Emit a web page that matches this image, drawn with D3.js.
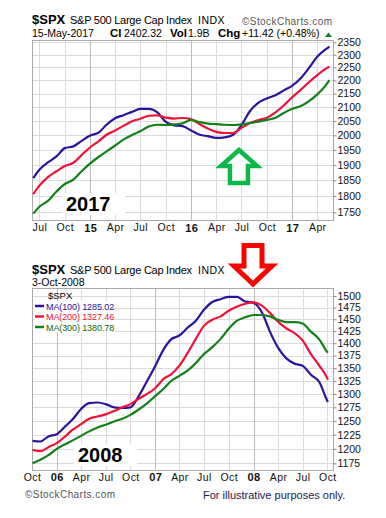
<!DOCTYPE html>
<html lang="en">
<head>
<meta charset="utf-8">
<title>$SPX moving averages 2017 vs 2008</title>
<script src="https://cdn.jsdelivr.net/npm/d3@7"></script>
<style>
  body { margin: 0; background: #fff; }
  text { font-family: "Liberation Sans", Arial, sans-serif; }
</style>
</head>
<body>
<script>
// ---- 2017 panel data (monthly readings) ----
var topDates = ["2014-06-09","2014-07-01","2014-08-01","2014-09-01","2014-10-01","2014-11-01","2014-12-01",
  "2015-01-01","2015-02-01","2015-03-01","2015-04-01","2015-05-01","2015-06-01","2015-07-01","2015-08-01",
  "2015-09-01","2015-10-01","2015-11-01","2015-12-01",
  "2016-01-01","2016-02-01","2016-03-01","2016-04-01","2016-05-01","2016-06-01","2016-07-01","2016-08-01",
  "2016-09-01","2016-10-01","2016-11-01","2016-12-01",
  "2017-01-01","2017-02-01","2017-03-01","2017-04-01","2017-05-01","2017-05-15"];
var topMA100 = [1857,1884,1908,1928,1956,1962,1981,1999,2010,2037,2060,2071,2083,2094,2094,2081,2047,2035,2032,
  2017,2002,1997,1991,1993,2002,2036,2086,2117,2132,2144,2162,2180,2209,2246,2292,2321,2333];
var topMA200 = [1806,1833,1860,1879,1896,1907,1933,1959,1980,2002,2017,2033,2049,2058,2069,2070,2062,2059,2061,
  2056,2039,2024,2012,2008,2008,2026,2043,2054,2062,2081,2106,2137,2165,2192,2220,2244,2253];
var topMA300 = [1746,1767,1785,1814,1838,1852,1879,1905,1927,1945,1965,1985,2001,2014,2031,2037,2036,2038,2042,
  2054,2046,2041,2039,2037,2036,2038,2043,2048,2054,2062,2079,2094,2104,2121,2147,2180,2201];
var topYTicks = [1750,1800,1850,1900,1950,2000,2050,2100,2150,2200,2250,2300,2350];
var topXTicks = ["2014-07-01","2014-10-01","2015-01-01","2015-04-01","2015-07-01","2015-10-01",
  "2016-01-01","2016-04-01","2016-07-01","2016-10-01","2017-01-01","2017-04-01"];

// ---- 2008 panel data ----
var botDates = ["2005-10-03","2005-11-01","2005-12-01",
  "2006-01-01","2006-02-01","2006-03-01","2006-04-01","2006-05-01","2006-06-01","2006-07-01","2006-08-01",
  "2006-09-01","2006-10-01","2006-11-01","2006-12-01",
  "2007-01-01","2007-02-01","2007-03-01","2007-04-01","2007-05-01","2007-06-01","2007-07-01","2007-08-01",
  "2007-09-01","2007-10-01","2007-11-01","2007-12-01",
  "2008-01-01","2008-02-01","2008-03-01","2008-04-01","2008-05-01","2008-06-01","2008-07-01","2008-08-01",
  "2008-09-01","2008-10-01","2008-10-03"];
var botMA100 = [1214,1213,1222,1226,1240,1253,1272,1283,1284,1281,1275,1274,1275,1296,1324,
  1354,1387,1408,1416,1432,1447,1470,1487,1493,1498,1498,1488,
  1485,1465,1425,1391,1370,1359,1355,1337,1323,1287,1285.02];
var botMA200 = [1198,1196,1203,1210,1222,1234,1244,1254,1258,1262,1268,1275,1281,1291,1300,
  1311,1329,1338,1355,1380,1409,1436,1449,1456,1468,1477,1483,
  1486,1479,1464,1445,1431,1421,1406,1378,1355,1330,1327.46];
var botMA300 = [1175,1181,1189,1200,1208,1215,1223,1231,1238,1243,1249,1254,1261,1271,1282,
  1296,1310,1325,1335,1345,1360,1378,1392,1409,1430,1447,1454,
  1459,1459,1456,1449,1444,1444,1441,1424,1408,1382,1380.78];
var botYTicks = [1175,1200,1225,1250,1275,1300,1325,1350,1375,1400,1425,1450,1475,1500];
var botXTicks = ["2005-10-01","2006-01-01","2006-04-01","2006-07-01","2006-10-01","2007-01-01",
  "2007-04-01","2007-07-01","2007-10-01","2008-01-01","2008-04-01","2008-07-01","2008-10-01"];
var legendNames = ["MA(100)","MA(200)","MA(300)"];
var legendLast = ["1285.02","1327.46","1380.78"];

var w = 386;
var h = 518;
var colors = ["#2e119f", "#ee1238", "#13801a"];
var legendColors = ["#1f0f99", "#e8102e", "#0b6b0b"];
var parseTime = d3.timeParse("%Y-%m-%d");
var fmtMonth = d3.timeFormat("%b");
var fmtYear = d3.timeFormat("%y");

var svg = d3.select("body")
            .append("svg")
            .attr("width", w)
            .attr("height", h);

svg.append("rect").attr("width", w).attr("height", h).attr("fill", "#fff");

function drawPanel(p) {
    var g = svg.append("g");
    var dates = p.dates.map(parseTime);
    var xTicks = p.xTicks.map(parseTime);

    var xScale = d3.scaleTime()
                .domain(p.xDomain.map(parseTime))
                .range([p.x0, p.x1]);
    var yScale = d3.scaleLog()
                .domain(p.yDomain)
                .range([p.bottom, p.top]);

    // grid
    g.selectAll(".hg")
        .data(p.yTicks)
        .enter()
        .append("line")
        .attr("x1", p.left).attr("x2", p.right)
        .attr("y1", function(d) { return Math.round(yScale(d)) + 0.5; })
        .attr("y2", function(d) { return Math.round(yScale(d)) + 0.5; })
        .attr("stroke", "#dcdcdc");

    g.selectAll(".vg")
        .data(xTicks)
        .enter()
        .append("line")
        .attr("x1", function(d) { return Math.round(xScale(d)) + 0.5; })
        .attr("x2", function(d) { return Math.round(xScale(d)) + 0.5; })
        .attr("y1", p.top).attr("y2", p.bottom)
        .attr("stroke", function(d) { return d.getMonth() === 0 ? "#bdbdbd" : "#dcdcdc"; });

    g.append("rect")
        .attr("x", p.left).attr("y", p.top)
        .attr("width", p.right - p.left).attr("height", p.bottom - p.top)
        .attr("fill", "none")
        .attr("stroke", "#aaa");

    // year label on a white box
    g.append("rect")
        .attr("x", p.yearX - 4).attr("y", p.yearY - 18)
        .attr("width", 63).attr("height", 22)
        .attr("fill", "#fff");
    g.append("text")
        .attr("x", p.yearX).attr("y", p.yearY)
        .attr("font-family", "'DejaVu Sans', sans-serif")
        .attr("font-weight", "bold")
        .attr("font-size", "20px")
        .attr("fill", "#000")
        .text(p.year);

    // moving averages
    var line = d3.line()
        .x(function(d, i) { return xScale(dates[i]); })
        .y(function(d) { return yScale(d); })
        .curve(d3.curveMonotoneX);

    p.series.forEach(function(s, i) {
        g.append("path")
            .datum(s)
            .attr("d", line)
            .attr("fill", "none")
            .attr("stroke", colors[i])
            .attr("stroke-width", 2.2)
            .attr("stroke-linejoin", "round");
    });

    // right axis
    var ya = g.append("g")
        .attr("transform", "translate(" + p.right + ",0)")
        .call(d3.axisRight(yScale).tickValues(p.yTicks).tickSize(3).tickPadding(1).tickFormat(d3.format("d")));
    ya.select(".domain").remove();
    ya.selectAll("line").attr("stroke", "#888");
    ya.selectAll("text")
        .attr("font-family", "'Liberation Sans', Arial, sans-serif")
        .attr("font-size", "10.5px")
        .attr("fill", "#111");

    // bottom axis
    var xa = g.append("g")
        .attr("transform", "translate(0," + p.bottom + ")")
        .call(d3.axisBottom(xScale).tickValues(xTicks).tickSize(0).tickPadding(p.xPad)
            .tickFormat(function(d) { return d.getMonth() === 0 ? fmtYear(d) : fmtMonth(d); }));
    xa.select(".domain").remove();
    xa.selectAll("text")
        .attr("font-family", "'Liberation Sans', Arial, sans-serif")
        .attr("font-size", function(d) { return d.getMonth() === 0 ? "11px" : "10.5px"; })
        .attr("font-weight", function(d) { return d.getMonth() === 0 ? "bold" : "normal"; })
        .attr("letter-spacing", "0.4px")
        .attr("fill", "#111");

    return { x: xScale, y: yScale };
}

function header(y, dateY, date) {
    svg.append("text")
        .attr("x", 32).attr("y", y)
        .attr("font-weight", "bold").attr("font-size", "13px")
        .text("$SPX");
    svg.append("text")
        .attr("x", 70).attr("y", y)
        .attr("font-size", "11px")
        .attr("textLength", 122)
        .text("S&P 500 Large Cap Index");
    svg.append("text")
        .attr("x", 198).attr("y", y)
        .attr("font-size", "10.5px")
        .attr("letter-spacing", "0.5px")
        .text("INDX");
    svg.append("text")
        .attr("x", 32).attr("y", dateY)
        .attr("font-size", "10.5px")
        .text(date);
}

// ---- top panel ----
header(24.3, 36.7, "15-May-2017");
svg.append("text")
    .attr("x", 242).attr("y", 24.5)
    .attr("font-family", "'DejaVu Sans', sans-serif")
    .attr("font-size", "10px")
    .attr("textLength", 90)
    .attr("fill", "#555")
    .text("\u00A9StockCharts.com");

var info = svg.append("text").attr("y", 36.7).attr("font-size", "10.5px").attr("fill", "#000");
info.append("tspan").attr("x", 110).attr("font-weight", "bold").attr("font-size", "11.5px").text("Cl");
info.append("tspan").attr("x", 124).text("2402.32");
info.append("tspan").attr("x", 170).attr("font-weight", "bold").attr("font-size", "11.5px").text("Vol");
info.append("tspan").attr("x", 188).text("1.9B");
info.append("tspan").attr("x", 218).attr("font-weight", "bold").attr("font-size", "11.5px").text("Chg");
info.append("tspan").attr("x", 242).text("+11.42 (+0.48%)");
svg.append("path")
    .attr("d", "M325,37L332,37L328.5,32.5Z")
    .attr("fill", "#1f7a2a");

var topPanel = drawPanel({
    dates: topDates, series: [topMA100, topMA200, topMA300],
    xDomain: ["2014-06-08", "2017-05-28"], x0: 33, x1: 333,
    yDomain: [1725.3, 2357.4],
    left: 32.5, right: 333.5, top: 40.5, bottom: 220.5,
    yTicks: topYTicks, xTicks: topXTicks, xPad: 3.5,
    year: "2017", yearX: 66, yearY: 211
});

// green up arrow at the mid-2016 turn
var gx = topPanel.x(parseTime("2016-07-01")) - 2.5;
svg.append("path")
    .attr("d", "M" + gx + ",150L" + (gx + 18) + ",166L" + (gx + 9) + ",166L" + (gx + 9) + ",183L" +
        (gx - 9) + ",183L" + (gx - 9) + ",166L" + (gx - 18) + ",166Z")
    .attr("fill", "#fff")
    .attr("stroke", "#0cb84a")
    .attr("stroke-width", 4.5);

// ---- bottom panel ----
header(274, 286.3, "3-Oct-2008");

var botPanel = drawPanel({
    dates: botDates, series: [botMA100, botMA200, botMA300],
    xDomain: ["2005-10-01", "2008-10-22"], x0: 32, x1: 333,
    yDomain: [1162.7, 1516.5],
    left: 32.5, right: 333.5, top: 288.5, bottom: 470.5,
    yTicks: botYTicks, xTicks: botXTicks, xPad: 3,
    year: "2008", yearX: 78, yearY: 462
});

// legend
svg.append("rect").attr("x", 34).attr("y", 301).attr("width", 78).attr("height", 31).attr("fill", "#fff");
svg.append("text").attr("x", 48).attr("y", 299).attr("font-size", "9.5px").attr("fill", "#000").text("$SPX");
legendNames.forEach(function(n, i) {
    var y = 309.5 + i * 10.5;
    svg.append("line")
        .attr("x1", 35).attr("x2", 44)
        .attr("y1", y - 3.5).attr("y2", y - 3.5)
        .attr("stroke", colors[i]).attr("stroke-width", 2.5);
    svg.append("text")
        .attr("x", 46).attr("y", y)
        .attr("font-size", "9px")
        .attr("letter-spacing", "-0.1px")
        .attr("fill", legendColors[i])
        .text(n + " " + legendLast[i]);
});

// red down arrow at the 2008 turn
var rx = botPanel.x(parseTime("2008-01-01")) - 0.5;
svg.append("path")
    .attr("d", "M" + (rx - 9) + ",245.5L" + (rx + 9) + ",245.5L" + (rx + 9) + ",266L" + (rx + 19) + ",266L" +
        rx + ",284L" + (rx - 19) + ",266L" + (rx - 9) + ",266Z")
    .attr("fill", "#fff")
    .attr("stroke", "#ff0000")
    .attr("stroke-width", 5);

// footer
svg.append("text")
    .attr("x", 25).attr("y", 498)
    .attr("font-family", "'DejaVu Sans', sans-serif")
    .attr("font-size", "10px")
    .attr("textLength", 90)
    .attr("fill", "#555")
    .text("\u00A9StockCharts.com");
svg.append("text")
    .attr("x", 203).attr("y", 499)
    .attr("font-size", "11px")
    .attr("fill", "#1b1b4b")
    .text("For illustrative purposes only.");
</script>
</body>
</html>
